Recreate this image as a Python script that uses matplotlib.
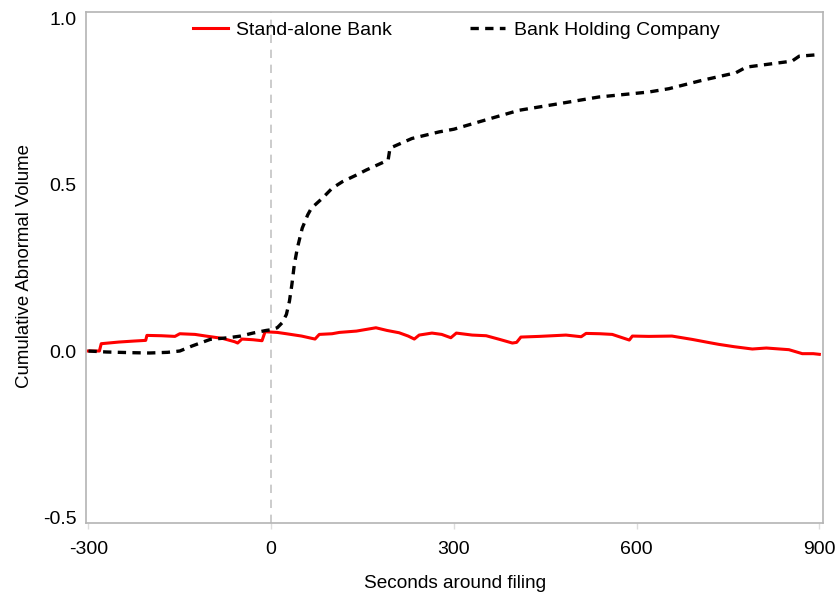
import matplotlib.pyplot as plt
import numpy as np

plt.rcParams['font.family'] = ['Liberation Sans', 'DejaVu Sans']

# cumulative abnormal volume, seconds relative to the filing
sab_sec = [-300, -290, -282, -279, -250, -225, -206, -204, -180, -158, -150, -125, -107,
           -80, -60, -55, -48, -30, -15, -10, 10, 25, 50, 67, 72, 79, 100, 112, 140, 172,
           190, 210, 225, 235, 243, 264, 280, 295, 304, 330, 353, 375, 396, 403, 410, 440,
           484, 509, 517, 540, 560, 588, 593, 620, 658, 691, 720, 735, 760, 790, 813, 850,
           872, 890, 900]
sab_cav = [0.0, 0.0, 0.0, 0.022, 0.027, 0.030, 0.032, 0.047, 0.046, 0.044, 0.052, 0.050, 0.045,
           0.038, 0.028, 0.024, 0.036, 0.034, 0.031, 0.058, 0.056, 0.052, 0.045, 0.038, 0.036,
           0.050, 0.052, 0.056, 0.060, 0.070, 0.062, 0.055, 0.045, 0.036, 0.048, 0.054, 0.050,
           0.040, 0.054, 0.048, 0.046, 0.035, 0.024, 0.026, 0.042, 0.044, 0.048, 0.043, 0.053,
           0.052, 0.050, 0.033, 0.045, 0.044, 0.045, 0.035, 0.025, 0.020, 0.013, 0.006, 0.009,
           0.004, -0.008, -0.008, -0.010]

bhc_sec = [-300, -270, -230, -200, -170, -150, -130, -115, -100, -70, -50, -30, -8, 0, 10, 18,
           25, 30, 34, 38, 43, 51, 60, 66, 84, 100, 117, 140, 156, 180, 192, 195, 200, 231,
           276, 300, 341, 407, 473, 538, 620, 653, 707, 763, 780, 834, 855, 867, 895, 900]
bhc_cav = [0.0, -0.003, -0.005, -0.006, -0.004, 0.0, 0.015, 0.025, 0.035, 0.040, 0.045, 0.054,
           0.062, 0.064, 0.070, 0.085, 0.11, 0.15, 0.20, 0.26, 0.31, 0.37, 0.41, 0.43, 0.46,
           0.49, 0.51, 0.53, 0.545, 0.565, 0.575, 0.61, 0.615, 0.64, 0.66, 0.668, 0.69, 0.725,
           0.745, 0.765, 0.78, 0.79, 0.815, 0.838, 0.855, 0.868, 0.873, 0.888, 0.892, 0.892]

xticks = [-300, 0, 300, 600, 900]
yticks = [-0.5, 0.0, 0.5, 1.0]

fig = plt.figure(figsize=(8.4, 5.94), dpi=100)
ax = fig.add_axes([86 / 840, 1 - 523 / 594, 737 / 840, 511 / 594])

grey = '#b4b4b4'
ax.axvline(0, color='#c4c4c4', lw=1.2, dashes=(5, 4), zorder=1)
ax.plot(sab_sec, sab_cav, color='#ff0000', lw=2.2, label='Stand-alone Bank', zorder=3)
ax.plot(bhc_sec, bhc_cav, color='black', lw=2.4, dashes=(2.5, 1.9), label='Bank Holding Company', zorder=4)

ax.set_xlim(-304, 906)
ax.set_ylim(-0.518, 1.021)
ax.set_xticks(xticks)
ax.set_xticklabels([str(t) for t in xticks])
ax.set_yticks(yticks)
ax.set_yticklabels([f'{t:.1f}' for t in yticks])
ax.tick_params(axis='x', length=4, width=1, color='#dcdcdc', pad=9, labelsize=14)
ax.tick_params(axis='y', length=0, pad=7, labelsize=14)
for s in ax.spines.values():
    s.set_color(grey)
    s.set_linewidth(1.2)

fig.text(455 / 840, 1 - 583 / 594, 'Seconds around filing', ha='center', va='center', fontsize=13.7)
fig.text(25 / 840, 1 - 266 / 594, 'Cumulative Abnormal Volume', ha='center', va='center',
         rotation=90, fontsize=13.4)

ax.legend(loc='upper center', bbox_to_anchor=(0.502, 1.016), ncol=2, frameon=False, fontsize=14,
          handlelength=1.8, handletextpad=0.45, columnspacing=4.0)

fig.savefig('out.png', dpi=100)
